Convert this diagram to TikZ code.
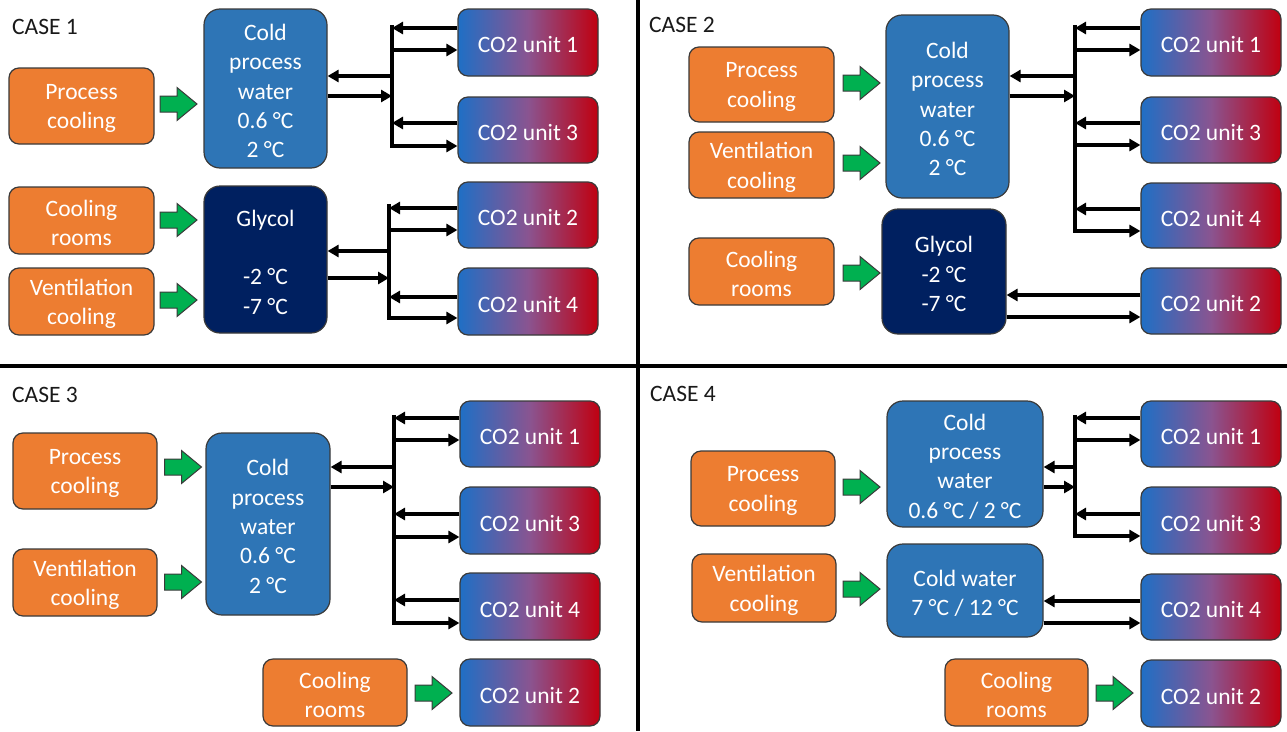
\documentclass[tikz,border=0pt]{standalone}
\usepackage{fontspec}
\setmainfont{Carlito}
\usetikzlibrary{arrows.meta}
\definecolor{orng}{HTML}{ED7D31}
\definecolor{pblue}{HTML}{2E75B6}
\definecolor{navy}{HTML}{002060}
\definecolor{grn}{HTML}{00B050}
\definecolor{cblue}{HTML}{1F6FC5}
\definecolor{cmid}{HTML}{8A5490}
\definecolor{cred}{HTML}{C00010}
\definecolor{edge}{HTML}{3A3A3A}
\tikzset{
 box/.style={rounded corners=10pt, draw=edge, line width=1.2pt, inner sep=0pt},
 txt/.style={inner sep=0pt, align=center, text=white, font=\fontsize{23.5}{29.3}\selectfont},
 obox/.style={box, fill=orng},
 wbox/.style={box, fill=pblue, rounded corners=16pt},
 gbox/.style={box, fill=navy, rounded corners=16pt},
 ubox/.style={box, left color=cblue, right color=cred, middle color=cmid},
 flow/.style={line width=3.6pt, -{Triangle[length=11pt,width=12pt]}},
 garrow/.style={fill=grn, draw=edge, line width=1pt, line join=miter},
 title/.style={anchor=west, inner sep=0pt, font=\fontsize{23.5}{29.3}\selectfont, text=black!90},
 divider/.style={line width=4pt},
}
\newcommand\bx[7]{\node[#1, minimum width={(#5)-(#3)}, minimum height={(#6)-(#4)}] (#2) at ({((#3)+(#5))/2},{((#4)+(#6))/2}) {};
 \node[txt] (#2-t) at ([yshift=-2.5pt]#2.center) {#7};}
\newcommand\garr[2]{\draw[garrow, shift={(#1,#2)}] (-18.5,-8) -- (-1.5,-8) -- (-1.5,-16.5) -- (18.5,0) -- (-1.5,16.5) -- (-1.5,8) -- (-18.5,8) -- cycle;}
\begin{document}
\begin{tikzpicture}[x=1pt,y=-1pt]
\useasboundingbox (0,0) rectangle (1287,731);
\fill[white] (0,0) rectangle (1287,731);
% dividers
\draw[divider] (637.5,0) -- (637.5,731);
\draw[divider] (0,366) -- (1287,366);

% ---------------- CASE 1
\node[title] (t1) at (12,27) {CASE 1};
\bx{obox}{pc1}{9}{68}{154}{144}{Process\\cooling}
\bx{obox}{cr1}{9}{187}{154}{254}{Cooling\\rooms}
\bx{obox}{vc1}{9}{268}{154}{335}{Ventilation\\cooling}
\bx{wbox}{cpw1}{204}{9}{327}{168}{Cold\\process\\water\\0.6 °C\\2 °C}
\bx{gbox}{gly1}{204}{186}{327}{333}{Glycol\\\phantom{X}\\-2 °C\\-7 °C}
\bx{ubox}{u1a}{458}{9}{598}{76}{CO2 unit 1}
\bx{ubox}{u1c}{458}{97}{598}{163}{CO2 unit 3}
\bx{ubox}{u1b}{458}{182}{598}{248}{CO2 unit 2}
\bx{ubox}{u1d}{458}{268}{598}{335}{CO2 unit 4}
\garr{178.5}{104}
\garr{178.5}{220}
\garr{178.5}{300}
\coordinate (b1t) at (392,25);
\coordinate (b1b) at (392,146);
\draw[flow] (b1t) -- (b1b) -- (u1c.west |- b1b);
\draw[flow] (u1a.west |- 0,28) -- (b1t |- 0,28);
\draw[flow] (b1t |- 0,50) -- (u1a.west |- 0,50);
\draw[flow] (b1t |- 0,76) -- (cpw1.east |- 0,76);
\draw[flow] (cpw1.east |- 0,96) -- (b1t |- 0,96);
\draw[flow] (u1c.west |- 0,123) -- (b1t |- 0,123);
\coordinate (b2t) at (389,204);
\coordinate (b2b) at (389,318);
\draw[flow] (b2t) -- (b2b) -- (u1d.west |- b2b);
\draw[flow] (u1b.west |- 0,208) -- (b2t |- 0,208);
\draw[flow] (b2t |- 0,230) -- (u1b.west |- 0,230);
\draw[flow] (b2t |- 0,251) -- (gly1.east |- 0,251);
\draw[flow] (gly1.east |- 0,278) -- (b2t |- 0,278);
\draw[flow] (u1d.west |- 0,297) -- (b2t |- 0,297);

% ---------------- CASE 2
\node[title] (t2) at (649,25) {CASE 2};
\bx{obox}{pc2}{689}{47}{834}{122}{Process\\cooling}
\bx{obox}{vc2}{689}{132}{834}{198}{Ventilation\\cooling}
\bx{obox}{cr2}{689}{238}{834}{305}{Cooling\\rooms}
\bx{wbox}{cpw2}{886}{15}{1009}{198}{Cold\\process\\water\\0.6 °C\\2 °C}
\bx{gbox}{gly2}{882}{209}{1006}{334}{Glycol\\-2 °C\\-7 °C}
\bx{ubox}{u2a}{1141}{9}{1281}{76}{CO2 unit 1}
\bx{ubox}{u2c}{1141}{97}{1281}{163}{CO2 unit 3}
\bx{ubox}{u2d}{1141}{183}{1281}{248}{CO2 unit 4}
\bx{ubox}{u2b}{1141}{268}{1281}{334}{CO2 unit 2}
\garr{861.5}{83}
\garr{861.5}{163}
\garr{861.5}{273}
\coordinate (b3t) at (1075,25);
\coordinate (b3b) at (1075,231);
\draw[flow] (b3t) -- (b3b) -- (u2d.west |- b3b);
\draw[flow] (u2a.west |- 0,28) -- (b3t |- 0,28);
\draw[flow] (b3t |- 0,50) -- (u2a.west |- 0,50);
\draw[flow] (b3t |- 0,76) -- (cpw2.east |- 0,76);
\draw[flow] (cpw2.east |- 0,96) -- (b3t |- 0,96);
\draw[flow] (u2c.west |- 0,123) -- (b3t |- 0,123);
\draw[flow] (b3t |- 0,145) -- (u2c.west |- 0,145);
\draw[flow] (u2d.west |- 0,209) -- (b3t |- 0,209);
\draw[flow] (u2b.west |- 0,295) -- (gly2.east |- 0,295);
\draw[flow] (gly2.east |- 0,317) -- (u2b.west |- 0,317);

% ---------------- CASE 3
\node[title] (t3) at (12,395) {CASE 3};
\bx{obox}{pc3}{13}{433}{157}{509}{Process\\cooling}
\bx{obox}{vc3}{13}{549}{157}{616}{Ventilation\\cooling}
\bx{obox}{cr3}{263}{659}{407}{726}{Cooling\\rooms}
\bx{wbox}{cpw3}{206}{433}{330}{615}{Cold\\process\\water\\0.6 °C\\2 °C}
\bx{ubox}{u3a}{460}{401}{600}{467}{CO2 unit 1}
\bx{ubox}{u3c}{460}{487}{600}{554}{CO2 unit 3}
\bx{ubox}{u3d}{460}{573}{600}{640}{CO2 unit 4}
\bx{ubox}{u3b}{460}{659}{600}{726}{CO2 unit 2}
\garr{183}{467}
\garr{183}{582}
\garr{433.5}{693}
\coordinate (b4t) at (394,415);
\coordinate (b4b) at (394,623);
\draw[flow] (b4t) -- (b4b) -- (u3d.west |- b4b);
\draw[flow] (u3a.west |- 0,418) -- (b4t |- 0,418);
\draw[flow] (b4t |- 0,440) -- (u3a.west |- 0,440);
\draw[flow] (b4t |- 0,467) -- (cpw3.east |- 0,467);
\draw[flow] (cpw3.east |- 0,487) -- (b4t |- 0,487);
\draw[flow] (u3c.west |- 0,514) -- (b4t |- 0,514);
\draw[flow] (b4t |- 0,537) -- (u3c.west |- 0,537);
\draw[flow] (u3d.west |- 0,600) -- (b4t |- 0,600);

% ---------------- CASE 4
\node[title] (t4) at (650,394) {CASE 4};
\bx{obox}{pc4}{691}{451}{835}{526}{Process\\cooling}
\bx{obox}{vc4}{692}{554}{836}{622}{Ventilation\\cooling}
\bx{obox}{cr4}{945}{659}{1088}{726}{Cooling\\rooms}
\bx{wbox}{cpw4}{887}{401}{1043}{527}{Cold\\process\\water\\0.6 °C / 2 °C}
\bx{wbox}{cw4}{887}{544}{1043}{637}{Cold water\\7 °C / 12 °C}
\bx{ubox}{u4a}{1141}{401}{1281}{467}{CO2 unit 1}
\bx{ubox}{u4c}{1141}{487}{1281}{554}{CO2 unit 3}
\bx{ubox}{u4d}{1141}{574}{1281}{640}{CO2 unit 4}
\bx{ubox}{u4b}{1141}{660}{1281}{727}{CO2 unit 2}
\garr{861.5}{487}
\garr{861.5}{589}
\garr{1114.5}{693}
\coordinate (b5t) at (1075,415);
\coordinate (b5b) at (1075,536);
\draw[flow] (b5t) -- (b5b) -- (u4c.west |- b5b);
\draw[flow] (u4a.west |- 0,418) -- (b5t |- 0,418);
\draw[flow] (b5t |- 0,440) -- (u4a.west |- 0,440);
\draw[flow] (b5t |- 0,467) -- (cpw4.east |- 0,467);
\draw[flow] (cpw4.east |- 0,487) -- (b5t |- 0,487);
\draw[flow] (u4c.west |- 0,514) -- (b5t |- 0,514);
\draw[flow] (u4d.west |- 0,601) -- (cw4.east |- 0,601);
\draw[flow] (cw4.east |- 0,623) -- (u4d.west |- 0,623);
\end{tikzpicture}
\end{document}
